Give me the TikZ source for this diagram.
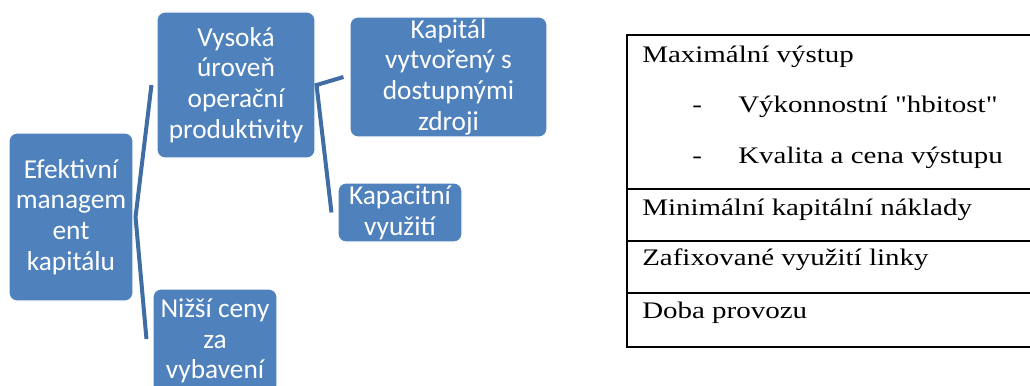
\documentclass[tikz,border=0pt]{standalone}
\usepackage{fontspec}
\usetikzlibrary{calc}
\newfontfamily\boxfont{Carlito}
\newfontfamily\tabfont[FakeStretch=1.22]{Liberation Serif}
\definecolor{boxblue}{HTML}{4F81BD}
\definecolor{linkblue}{HTML}{3F6DA4}
\begin{document}
\begin{tikzpicture}[x=0.75pt,y=-0.75pt,
  box/.style={draw=white, line width=0.8pt, fill=boxblue, rounded corners=6pt,
    text=white, align=center, inner sep=0pt,
    font=\boxfont\fontsize{20.5}{23}\selectfont},
  link/.style={draw=linkblue, line width=3pt, line join=miter},
  tabline/.style={draw=black, line width=1pt},
  tabtext/.style={anchor=base west, inner sep=0pt,
    font=\tabfont\fontsize{17.8}{20}\selectfont}]
\useasboundingbox (0,0) rectangle (1030,385);
% boxes
\node[box, minimum width=93pt, minimum height=126pt] (n1) at (71,217)
  {Efektivní\\managem\\ent\\kapitálu};
\node[box, minimum width=118.5pt, minimum height=109.5pt] (n2) at (236,85)
  {Vysoká\\úroveň\\operační\\produktivity};
\node[box, minimum width=147.75pt, minimum height=90pt] (n3) at (448.5,77)
  {Kapitál\\vytvořený s\\dostupnými\\zdroji};
\node[box, minimum width=93pt, minimum height=44.25pt] (n4) at (400,212.5)
  {Kapacitní\\využití};
\node[box, minimum width=93pt, minimum height=78pt] (n5) at (215,341)
  {Nižší ceny\\za\\vybavení};
% connectors
\coordinate (j1) at ($(n1.east)+(2,0)$);
\coordinate (t1) at ($(n2.west)+(-5,0)$);
\coordinate (b1) at ($(n5.west)+(-6,-2)$);
\coordinate (j2) at ($(n2.east)+(1,0)$);
\coordinate (t2) at ($(n3.west)+(-6,0)$);
\coordinate (b2) at ($(n4.west)+(-6,0)$);
\draw[link] (t1) -- (j1) -- (b1);
\draw[link] (t2) -- (j2) -- (b2);
% table
\draw[tabline] (1032,35) -- (627,35) -- (627,347) -- (1032,347);
\draw[tabline] (627,189) -- (1032,189);
\draw[tabline] (627,241) -- (1032,241);
\draw[tabline] (627,293) -- (1032,293);
\node[tabtext] (r1) at (642,63) {Maximální výstup};
\node[tabtext] (d1) at (692,112) {-};
\node[tabtext] (r2) at (738,112) {Výkonnostní "hbitost"};
\node[tabtext] (d2) at (692,163) {-};
\node[tabtext] (r3) at (738,163) {Kvalita a cena výstupu};
\node[tabtext] (r4) at (642,215) {Minimální kapitální náklady};
\node[tabtext] (r5) at (642,265) {Zafixované využití linky};
\node[tabtext] (r6) at (642,318) {Doba provozu};
\end{tikzpicture}
\end{document}
